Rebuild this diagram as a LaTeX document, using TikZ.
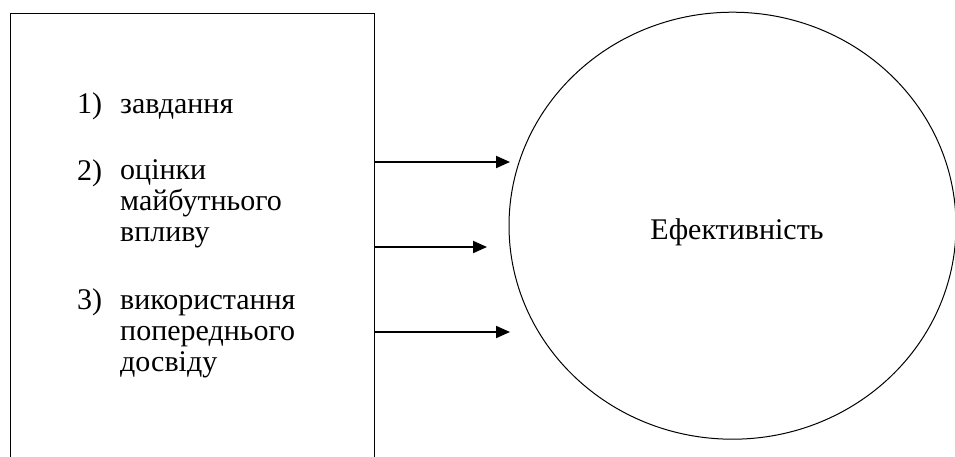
\documentclass[tikz,border=0pt]{standalone}
\usepackage{fontspec}
\setmainfont{Liberation Serif}
\newfontfamily\timesfont{Liberation Serif}
\usetikzlibrary{positioning,shapes.geometric,arrows.meta}

\begin{document}
\begin{tikzpicture}[x=1pt, y=-1pt,
		every item/.style={anchor=base west, inner sep=0pt, align=left,
			font=\timesfont\fontsize{30}{30.7}\selectfont},
		every arrow/.style={-{Triangle[length=14pt,width=12pt]}, line width=2pt}]
		\useasboundingbox (0,0) rectangle (955,456);
		\node [draw, line width=1.3pt, inner sep=0pt, anchor=north west,
			minimum width=364pt, minimum height=470pt] (box) at (9.5,12.5) {};
		\node [draw, ellipse, line width=1pt, inner sep=0pt,
			minimum width=447pt, minimum height=427pt] (eff) at (732.5,225.7) {};
		\node [every item, anchor=base] (eff-label) at (737,239) {Ефективність};
		% the base of a node of several lines is its last line
		\foreach \txt/\ynum/\ylast [count=\i] in {{завдання}/113/113,
			{оцінки\\майбутнього\\впливу}/180/241,
			{використання\\попереднього\\досвіду}/309/371} {
			\node [every item] (num-\i) at (77,\ynum) {\i)};
			\node [every item] (item-\i) at (120,\ylast) {\txt};
		};
		\foreach \yy/\xx [count=\i] in {162/510, 247/487, 332/510} {
			\coordinate (tip-\i) at (\xx,\yy);
			\draw [every arrow] (box.east |- tip-\i) -- (tip-\i);
		};
	\end{tikzpicture}
\end{document}
